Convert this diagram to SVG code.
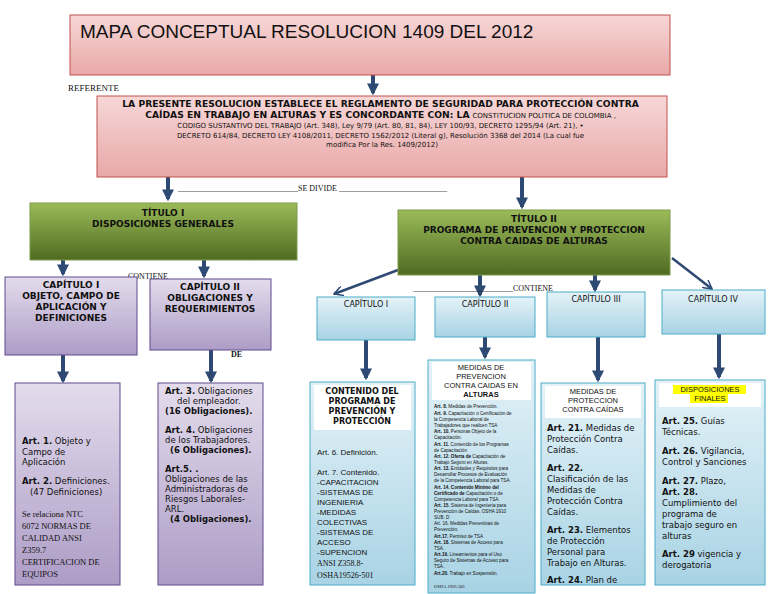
<svg xmlns="http://www.w3.org/2000/svg" width="768" height="594" viewBox="0 0 768 594">
<defs>
<linearGradient id="pink" x1="0" y1="0" x2="0" y2="1"><stop offset="0" stop-color="#f7d7d7"/><stop offset="1" stop-color="#e9a8a8"/></linearGradient>
<linearGradient id="green" x1="0" y1="0" x2="0" y2="1"><stop offset="0" stop-color="#9bbb59"/><stop offset="1" stop-color="#4f6b22"/></linearGradient>
<linearGradient id="purple" x1="0" y1="0" x2="0" y2="1"><stop offset="0" stop-color="#e3dcec"/><stop offset="1" stop-color="#ad9cc6"/></linearGradient>
<linearGradient id="blue" x1="0" y1="0" x2="0" y2="1"><stop offset="0" stop-color="#e4f2f8"/><stop offset="1" stop-color="#a8d3e4"/></linearGradient>
<marker id="ah" viewBox="0 0 10 10" refX="8" refY="5" markerWidth="3" markerHeight="3" orient="auto"><path d="M0,0 L10,5 L0,10 z" fill="#2e4a74"/></marker>
<marker id="oa" viewBox="0 0 10 10" refX="9" refY="5" markerWidth="4" markerHeight="4" orient="auto"><path d="M0,0 L9,5 L0,10" fill="none" stroke="#2e4a74" stroke-width="1.5"/></marker>
</defs>
<style>
.pk{fill:url(#pink);stroke:#c0504d;stroke-width:1}
.gr{fill:url(#green);stroke:#7f9a48;stroke-width:1}
.pu{fill:url(#purple);stroke:#5f4b8b;stroke-width:1}
.bl{fill:url(#blue);stroke:#4bacc6;stroke-width:1}
.wh{fill:#fff}
.c line,.c path{stroke:#2e4a74;stroke-width:4;fill:none}
text{font-family:"DejaVu Sans",sans-serif;fill:#111}
.b{font-weight:bold}
.s{font-family:"Liberation Serif",serif}
.a{font-family:"Liberation Sans",sans-serif}
</style>
<rect width="768" height="594" fill="#fff"/>
<g class="c">
<line x1="373" y1="75" x2="373" y2="93" marker-end="url(#ah)"/>
<line x1="168" y1="177" x2="168" y2="199" marker-end="url(#ah)"/>
<line x1="522" y1="177" x2="522" y2="207" marker-end="url(#ah)"/>
<line x1="63" y1="260" x2="63" y2="274" marker-end="url(#ah)"/>
<line x1="204" y1="260" x2="204" y2="276" marker-end="url(#ah)"/>
<line x1="63" y1="355" x2="63" y2="381" marker-end="url(#ah)"/>
<line x1="211" y1="350" x2="211" y2="381" marker-end="url(#ah)"/>
<line x1="398" y1="270" x2="334" y2="294" marker-end="url(#oa)" style="stroke-width:2.5"/>
<line x1="480" y1="275" x2="480" y2="295" marker-end="url(#ah)"/>
<line x1="595" y1="275" x2="595" y2="290" marker-end="url(#ah)"/>
<line x1="672" y1="258" x2="712" y2="289" marker-end="url(#oa)" style="stroke-width:2.5"/>
<line x1="366" y1="340" x2="366" y2="378" marker-end="url(#ah)"/>
<line x1="485" y1="337" x2="485" y2="357" marker-end="url(#ah)"/>
<line x1="598" y1="337" x2="598" y2="380" marker-end="url(#ah)"/>
<line x1="719" y1="334" x2="719" y2="377" marker-end="url(#ah)"/>
</g>
<text x="68" y="91" class="s" font-size="9">REFERENTE</text>
<text x="178" y="191" class="s" font-size="8">______________________________SE DIVIDE ___________________________</text>
<text x="128" y="279" class="s" font-size="8">CONTIENE</text>
<text x="413" y="291" class="s" font-size="8">_________________________CONTIENE</text>
<text x="231" y="357" class="s" font-size="8" font-weight="bold">DE</text>
<g id="title"><rect x="70" y="15" width="600" height="60" class="pk"/>
<text x="80" y="38" font-size="19" class="a" fill="#222">MAPA CONCEPTUAL RESOLUCION 1409 DEL 2012</text></g>
<g id="referente"><rect x="97" y="96" width="570" height="81" class="pk"/>
<text text-anchor="middle" font-size="9.2"><tspan x="382" y="107" class="b">LA PRESENTE RESOLUCION ESTABLECE EL REGLAMENTO DE SEGURIDAD PARA PROTECCIÓN CONTRA</tspan>
<tspan x="382" y="118"><tspan class="b">CAÍDAS EN TRABAJO EN ALTURAS Y  ES CONCORDANTE CON: LA</tspan> <tspan font-size="7">CONSTITUCION POLITICA DE COLOMBIA ,</tspan></tspan>
<tspan x="382" y="128" font-size="7">CODIGO SUSTANTIVO DEL TRABAJO (Art. 348), Ley 9/79 (Art. 80, 81, 84),         LEY 100/93, DECRETO 1295/94 (Art. 21), •</tspan>
<tspan x="382" y="138" font-size="7">DECRETO 614/84, DECRETO LEY 4108/2011, DECRETO 1562/2012 (Literal g), Resolución 3368 del 2014 (La cual fue</tspan>
<tspan x="382" y="147" font-size="7">modifica Por la Res. 1409/2012)</tspan></text></g>
<g id="titulo1"><rect x="30" y="203" width="267" height="57" class="gr"/>
<text text-anchor="middle" font-size="9" class="b"><tspan x="163" y="216">TÍTULO I</tspan><tspan x="163" y="227">DISPOSICIONES GENERALES</tspan></text></g>
<g id="titulo2"><rect x="398" y="210" width="272" height="65" class="gr"/>
<text text-anchor="middle" font-size="9" class="b"><tspan x="534" y="222">TÍTULO II</tspan><tspan x="534" y="233">PROGRAMA DE PREVENCION Y PROTECCION</tspan><tspan x="534" y="244">CONTRA CAIDAS DE ALTURAS</tspan></text></g>
<g id="cap1"><rect x="5" y="277" width="132" height="78" class="pu"/>
<text text-anchor="middle" font-size="9" class="b"><tspan x="71" y="288">CAPÍTULO I</tspan><tspan x="71" y="299">OBJETO, CAMPO DE</tspan><tspan x="71" y="310">APLICACIÓN Y</tspan><tspan x="71" y="321">DEFINICIONES</tspan></text></g>
<g id="cap2"><rect x="150" y="279" width="121" height="71" class="pu"/>
<text text-anchor="middle" font-size="9" class="b"><tspan x="210" y="290">CAPÍTULO II</tspan><tspan x="210" y="301">OBLIGACIONES Y</tspan><tspan x="210" y="312">REQUERIMIENTOS</tspan></text></g>
<g id="cap1c"><rect x="15" y="383" width="105" height="202" class="pu"/>
<text font-size="8.5"><tspan x="22" y="444"><tspan class="b">Art. 1.</tspan> Objeto y</tspan><tspan x="22" y="455">Campo de</tspan><tspan x="22" y="465">Aplicación</tspan>
<tspan x="22" y="484"><tspan class="b">Art. 2.</tspan> Definiciones.</tspan><tspan x="30" y="495">(47 Definiciones)</tspan></text>
<text font-size="8.5" class="s"><tspan x="22" y="517">Se relaciona  NTC</tspan><tspan x="22" y="529">6072  NORMAS DE</tspan><tspan x="22" y="541">CALIDAD   ANSI</tspan><tspan x="22" y="553">Z359.7</tspan><tspan x="22" y="565">CERTIFICACION DE</tspan><tspan x="22" y="577">EQUIPOS</tspan></text></g>
<g id="cap2c"><rect x="158" y="383" width="105" height="202" class="pu"/>
<text font-size="8.5"><tspan x="165" y="394"><tspan class="b">Art. 3.</tspan> Obligaciones</tspan><tspan x="177" y="404">del empleador.</tspan><tspan x="165" y="414" class="b">(16 Obligaciones).</tspan>
<tspan x="165" y="433"><tspan class="b">Art. 4.</tspan> Obligaciones</tspan><tspan x="165" y="443">de los Trabajadores.</tspan><tspan x="170" y="453" class="b">(6 Obligaciones).</tspan>
<tspan x="165" y="472" class="b">Art.5. .</tspan><tspan x="165" y="482">Obligaciones de las</tspan><tspan x="165" y="492">Administradoras de</tspan><tspan x="165" y="502">Riesgos Laborales-</tspan><tspan x="165" y="512">ARL.</tspan><tspan x="170" y="522" class="b">(4 Obligaciones).</tspan></text></g>
<g id="t2c1"><rect x="317" y="297" width="98" height="43" class="bl"/><text x="366" y="307" font-size="8" text-anchor="middle">CAPÍTULO I</text></g>
<g id="t2c2"><rect x="435" y="297" width="100" height="40" class="bl"/><text x="485" y="307" font-size="8" text-anchor="middle">CAPÍTULO II</text></g>
<g id="t2c3"><rect x="547" y="292" width="98" height="45" class="bl"/><text x="596" y="302" font-size="8" text-anchor="middle">CAPÍTULO III</text></g>
<g id="t2c4"><rect x="662" y="290" width="103" height="44" class="bl"/><text x="713" y="302" font-size="8" text-anchor="middle">CAPÍTULO IV</text></g>
<g id="t2c1c"><rect x="310" y="382" width="105" height="203" class="bl"/><rect x="314" y="385" width="97" height="45" class="wh"/>
<text text-anchor="middle" font-size="8" class="b"><tspan x="362" y="394">CONTENIDO DEL</tspan><tspan x="362" y="404">PROGRAMA DE</tspan><tspan x="362" y="414">PREVENCIÓN Y</tspan><tspan x="362" y="424">PROTECCIÓN</tspan></text>
<text font-size="8" class="a"><tspan x="317" y="455">Art. 6. Definición.</tspan><tspan x="317" y="475">Art. 7. Contenido.</tspan><tspan x="317" y="485">-CAPACITACION</tspan><tspan x="317" y="495">-SISTEMAS DE</tspan><tspan x="317" y="505">INGENIERIA</tspan><tspan x="317" y="515">-MEDIDAS</tspan><tspan x="317" y="525">COLECTIVAS</tspan><tspan x="317" y="535">-SISTEMAS DE</tspan><tspan x="317" y="545">ACCESO</tspan><tspan x="317" y="555">-SUPENCION</tspan></text>
<text font-size="8" class="s"><tspan x="317" y="566">ANSI Z358.8-</tspan><tspan x="317" y="578">OSHA19526-501</tspan></text></g>
<g id="t2c2c"><rect x="428" y="360" width="107" height="233" class="bl"/><rect x="432" y="362" width="99" height="38" class="wh"/>
<text text-anchor="middle" font-size="7.5" class="a"><tspan x="481" y="370">MEDIDAS  DE</tspan><tspan x="481" y="379">PREVENCION</tspan><tspan x="481" y="388">CONTRA CAIDAS  EN</tspan><tspan x="481" y="397" class="b">ALTURAS</tspan></text>
<text font-size="4.6" class="a"><tspan x="434" y="408"><tspan class="b">Art. 8.</tspan> Medidas de Prevención.</tspan>
<tspan x="434" y="415"><tspan class="b">Art. 9.</tspan> Capacitación o Certificación de</tspan><tspan x="434" y="421">la Competencia Laboral de</tspan><tspan x="434" y="427">Trabajadores que  realicen TSA</tspan>
<tspan x="434" y="433"><tspan class="b">Art. 10.</tspan> Personas Objeto de la</tspan><tspan x="434" y="439">Capacitación.</tspan>
<tspan x="434" y="446"><tspan class="b">Art. 11.</tspan> Contenido de los Programas</tspan><tspan x="434" y="452">de Capacitación</tspan>
<tspan x="434" y="458"><tspan class="b">Art. 12. Oferta de</tspan> Capacitación de</tspan><tspan x="434" y="464">Trabajo Seguro en Alturas.</tspan>
<tspan x="434" y="470"><tspan class="b">Art. 13.</tspan> Entidades y Requisitos para</tspan><tspan x="434" y="476">Desarrollar Procesos de Evaluación</tspan><tspan x="434" y="482">de la Competencia Laboral para TSA.</tspan>
<tspan x="434" y="489" class="b">Art. 14. Contenido Mínimo del</tspan><tspan x="434" y="495"><tspan class="b">Certificado de</tspan> Capacitación o de</tspan><tspan x="434" y="501">Competencia Laboral para TSA.</tspan>
<tspan x="434" y="507"><tspan class="b">Art. 15.</tspan> Sistema de Ingeniería para</tspan><tspan x="434" y="513">Prevención de Caídas.  OSHA  1910</tspan><tspan x="434" y="519">SUB. D</tspan>
<tspan x="434" y="525">Art. 16. Medidas Preventivas de</tspan><tspan x="434" y="531">Prevención.</tspan>
<tspan x="434" y="538"><tspan class="b">Art.17.</tspan> Permiso de TSA</tspan>
<tspan x="434" y="544"><tspan class="b">Art. 18.</tspan> Sistemas de Acceso para</tspan><tspan x="434" y="550">TSA.</tspan>
<tspan x="434" y="556"><tspan class="b">Art.19.</tspan> Lineamientos para el Uso</tspan><tspan x="434" y="562">Seguro de Sistemas de Acceso para</tspan><tspan x="434" y="568">TSA.</tspan>
<tspan x="434" y="575"><tspan class="b">Art.20.</tspan> Trabajo en Suspensión.</tspan></text>
<text x="434" y="588" font-size="4.6" class="s">OSHA 1926.503</text></g>
<g id="t2c3c"><rect x="541" y="383" width="104" height="202" class="bl"/><rect x="545" y="386" width="96" height="32" class="wh"/>
<text text-anchor="middle" font-size="7.5" class="a"><tspan x="593" y="394">MEDIDAS DE</tspan><tspan x="593" y="403">PROTECCION</tspan><tspan x="593" y="412">CONTRA CAÍDAS</tspan></text>
<text font-size="8.5"><tspan x="547" y="431"><tspan class="b">Art. 21.</tspan> Medidas de</tspan><tspan x="547" y="442">Protección Contra</tspan><tspan x="547" y="453">Caídas.</tspan>
<tspan x="547" y="471" class="b">Art. 22.</tspan><tspan x="547" y="482">Clasificación de las</tspan><tspan x="547" y="493">Medidas de</tspan><tspan x="547" y="504">Protección Contra</tspan><tspan x="547" y="515">Caídas.</tspan>
<tspan x="547" y="533"><tspan class="b">Art. 23.</tspan> Elementos</tspan><tspan x="547" y="544">de Protección</tspan><tspan x="547" y="555">Personal para</tspan><tspan x="547" y="566">Trabajo en Alturas.</tspan>
<tspan x="547" y="583"><tspan class="b">Art. 24.</tspan> Plan de</tspan></text></g>
<g id="t2c4c"><rect x="655" y="380" width="110" height="205" class="bl"/><rect x="659" y="383" width="102" height="24" class="wh"/>
<rect x="673" y="385" width="73" height="9" fill="#ffff00"/><rect x="690" y="394" width="38" height="9" fill="#ffff00"/>
<text text-anchor="middle" font-size="7.5" class="a"><tspan x="710" y="392">DISPOSICIONES</tspan><tspan x="710" y="401">FINALES</tspan></text>
<text font-size="8.5"><tspan x="662" y="424"><tspan class="b">Art. 25.</tspan> Guías</tspan><tspan x="662" y="435">Técnicas.</tspan>
<tspan x="662" y="454"><tspan class="b">Art. 26.</tspan> Vigilancia,</tspan><tspan x="662" y="465">Control y Sanciones</tspan>
<tspan x="662" y="484"><tspan class="b">Art. 27.</tspan> Plazo,</tspan><tspan x="662" y="495" class="b">Art. 28.</tspan><tspan x="662" y="506">Cumplimiento del</tspan><tspan x="662" y="517">programa de</tspan><tspan x="662" y="528">trabajo  seguro en</tspan><tspan x="662" y="539">alturas</tspan>
<tspan x="662" y="557"><tspan class="b">Art. 29</tspan> vigencia  y</tspan><tspan x="662" y="568">derogatoria</tspan></text></g>
</svg>
